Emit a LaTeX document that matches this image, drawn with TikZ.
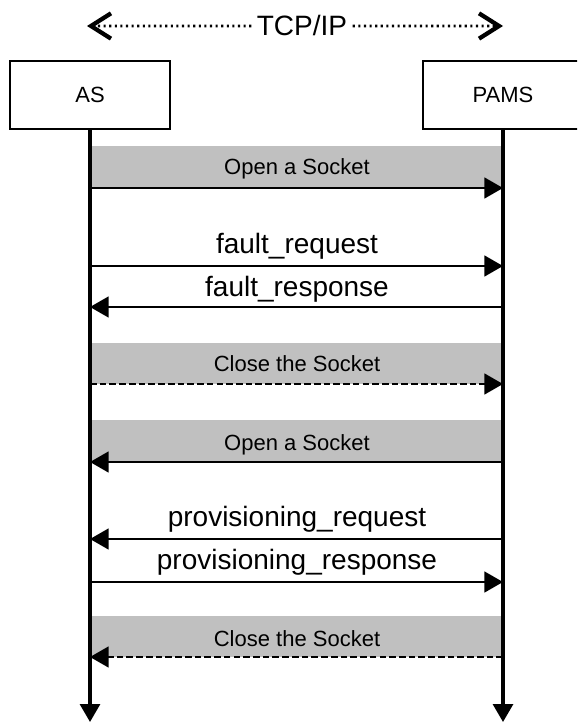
\documentclass[tikz,border=0pt]{standalone}
\usepackage{fontspec}
\setmainfont{Liberation Sans}
\usetikzlibrary{arrows.meta}

\begin{document}
\begin{tikzpicture}[x=0.75pt,y=0.75pt]
			\tikzstyle{every node}+=[inner sep=0pt]
			\tikzstyle{entity}=[draw=black, line width=2pt, minimum width=120pt, minimum height=51pt, font=\fontsize{16.5}{20}\selectfont]
			\tikzstyle{band}=[fill={rgb,255:red,192;green,192;blue,192}]
			\tikzstyle{bandtext}=[anchor=base, font=\fontsize{16.5}{20}\selectfont]
			\tikzstyle{msgtext}=[anchor=base, font=\fontsize{21}{25}\selectfont]
			\tikzstyle{life}=[black, line width=2.3pt, -{Triangle[length=13.5pt,width=15pt]}]
			\tikzstyle{msg}=[black, line width=2.1pt, -{Triangle[length=14pt,width=15.5pt]}]
			\tikzstyle{sockclose}=[msg, dash pattern=on 5pt off 2.3pt]
			\tikzstyle{link}=[black, line width=1.9pt, dash pattern=on 1.6pt off 2.6pt, -{Straight Barb[length=15pt,width=19pt,line width=3.2pt 0]}]
			\useasboundingbox (0,0) rectangle (577,-723);
			\clip (0,0) rectangle (577,-723);
			% message rows on the two lifelines
			\coordinate (as1) at (90,-188); \coordinate (pams1) at (503,-188);
			\coordinate (as2) at (90,-266); \coordinate (pams2) at (503,-266);
			\coordinate (as3) at (90,-307); \coordinate (pams3) at (503,-307);
			\coordinate (as4) at (90,-384); \coordinate (pams4) at (503,-384);
			\coordinate (as5) at (90,-462); \coordinate (pams5) at (503,-462);
			\coordinate (as6) at (90,-539); \coordinate (pams6) at (503,-539);
			\coordinate (as7) at (90,-582); \coordinate (pams7) at (503,-582);
			\coordinate (as8) at (90,-657); \coordinate (pams8) at (503,-657);
			\coordinate (asend) at (90,-722); \coordinate (pamsend) at (503,-722);
			\coordinate (tcpl) at (87,-26); \coordinate (tcpr) at (503,-26);
			% grey bands
			\fill [band] (90,-146) rectangle (pams1);
			\fill [band] (90,-343) rectangle (pams4);
			\fill [band] (90,-420) rectangle (pams5);
			\fill [band] (90,-616) rectangle (pams8);
			% TCP/IP
			\node [msgtext, inner xsep=4pt] (tcp) at (302,-36) {TCP/IP};
			\draw [link] (tcp) -- (tcpl);
			\draw [link] (tcp) -- (tcpr);
			% entities and lifelines
			\node [entity] (as) at (90,-95) {AS};
			\node [entity] (pams) at (503,-95) {PAMS};
			\draw [life] (as) -- (asend);
			\draw [life] (pams) -- (pamsend);
			% messages
			\draw [msg] (as1) -- (pams1);
			\node [bandtext] (open1) at (297,-175) {Open a Socket};
			\draw [msg] (as2) -- (pams2);
			\node [msgtext] (faultreq) at (297,-253) {fault\_request};
			\draw [msg] (pams3) -- (as3);
			\node [msgtext] (faultresp) at (297,-296) {fault\_response};
			\draw [sockclose] (as4) -- (pams4);
			\node [bandtext] (close1) at (297,-371.5) {Close the Socket};
			\draw [msg] (pams5) -- (as5);
			\node [bandtext] (open2) at (297,-450.5) {Open a Socket};
			\draw [msg] (pams6) -- (as6);
			\node [msgtext] (provreq) at (297,-526) {provisioning\_request};
			\draw [msg] (as7) -- (pams7);
			\node [msgtext] (provresp) at (297,-569) {provisioning\_response};
			\draw [sockclose] (pams8) -- (as8);
			\node [bandtext] (close2) at (297,-646.5) {Close the Socket};
\end{tikzpicture}
\end{document}
